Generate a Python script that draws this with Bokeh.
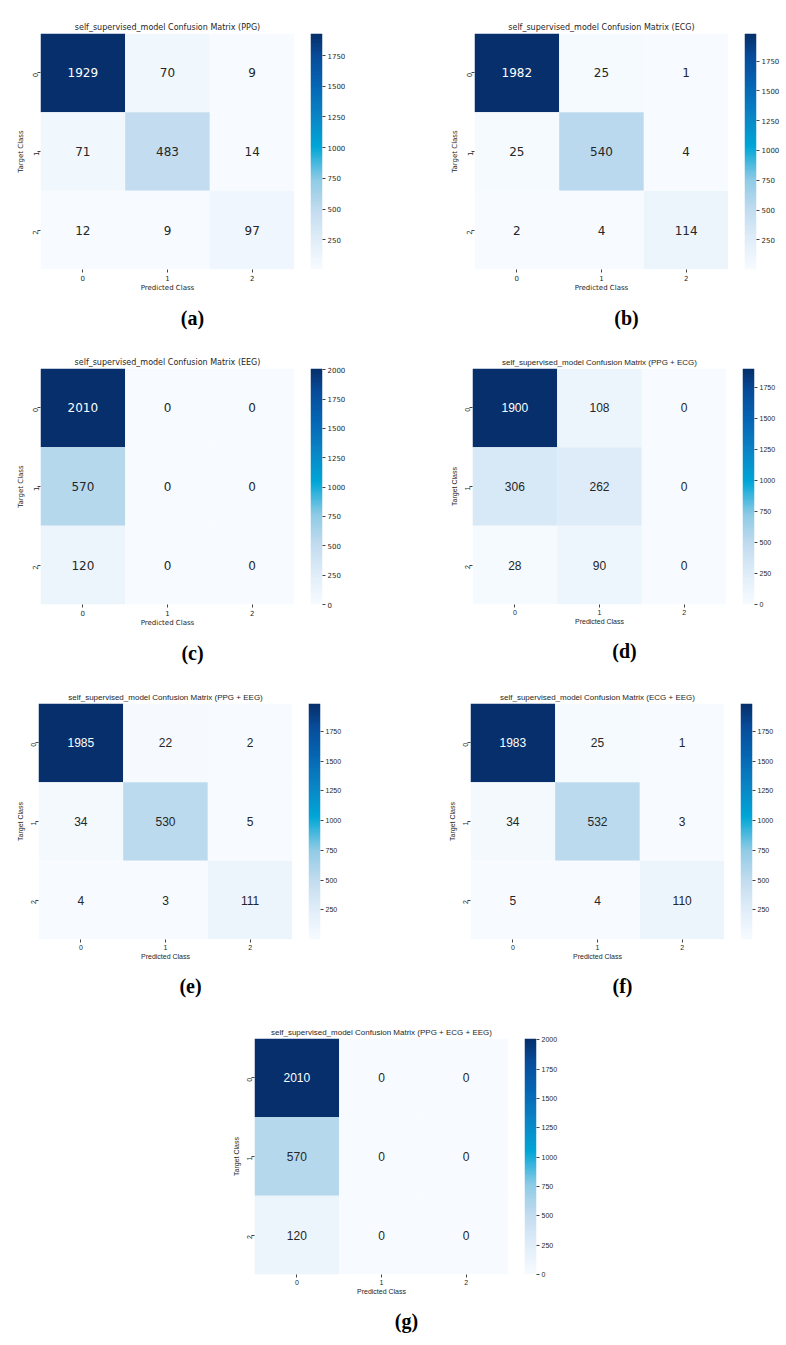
import math
import numpy as np
from bokeh.plotting import figure
from bokeh.models import (ColumnDataSource, LinearColorMapper, FixedTicker,
                          Title, Spacer, FactorRange, Range1d, LinearAxis)
from bokeh.layouts import row, column
from bokeh.embed import file_html
from bokeh.resources import INLINE

# ---------------- data ----------------
classes = ["0", "1", "2"]
cbar_ticks = [0, 250, 500, 750, 1000, 1250, 1500, 1750, 2000]

titles = [
    "self_supervised_model Confusion Matrix (PPG)",
    "self_supervised_model Confusion Matrix (ECG)",
    "self_supervised_model Confusion Matrix (EEG)",
    "self_supervised_model Confusion Matrix (PPG + ECG)",
    "self_supervised_model Confusion Matrix (PPG + EEG)",
    "self_supervised_model Confusion Matrix (ECG + EEG)",
    "self_supervised_model Confusion Matrix (PPG + ECG + EEG)",
]
captions = ["(a)", "(b)", "(c)", "(d)", "(e)", "(f)", "(g)"]

cm_ppg = [[1929, 70, 9], [71, 483, 14], [12, 9, 97]]
cm_ecg = [[1982, 25, 1], [25, 540, 4], [2, 4, 114]]
cm_eeg = [[2010, 0, 0], [570, 0, 0], [120, 0, 0]]
cm_ppg_ecg = [[1900, 108, 0], [306, 262, 0], [28, 90, 0]]
cm_ppg_eeg = [[1985, 22, 2], [34, 530, 5], [4, 3, 111]]
cm_ecg_eeg = [[1983, 25, 1], [34, 532, 3], [5, 4, 110]]
cm_all = [[2010, 0, 0], [570, 0, 0], [120, 0, 0]]
matrices = [cm_ppg, cm_ecg, cm_eeg, cm_ppg_ecg, cm_ppg_eeg, cm_ecg_eeg, cm_all]

# ---------------- style ----------------
stops = [(0.0, "#f7fbff"), (0.12, "#e1eef9"), (0.25, "#c2dcef"), (0.38, "#8ecbe6"),
         (0.52, "#00a6d7"), (0.65, "#0a85c6"), (0.78, "#0566b4"), (0.9, "#074d9b"),
         (1.0, "#062f6b")]


def hex2rgb(h):
    return [int(h[i:i + 2], 16) for i in (1, 3, 5)]


def make_palette(n=256):
    pos = [s[0] for s in stops]
    cols = np.array([hex2rgb(s[1]) for s in stops], dtype=float)
    out = []
    for tt in np.linspace(0, 1, n):
        rgb = [np.interp(tt, pos, cols[:, k]) for k in range(3)]
        out.append("#%02x%02x%02x" % tuple(int(round(c)) for c in rgb))
    return out


palette = make_palette()
TXT = "#262626"
TICK = "#444444"
FW, FH = 254, 236
TOP, BOT = 25, 74
CAP = 20


def caption_width(c, size):
    w = {"a": 0.5, "b": 0.556, "c": 0.444, "d": 0.556, "e": 0.444, "f": 0.333, "g": 0.5}
    return (0.666 + w[c[1]]) * size


def style_axis(ax, font):
    ax.axis_line_color = None
    ax.major_tick_line_color = TICK
    ax.major_tick_out = 3
    ax.major_tick_in = 0
    ax.minor_tick_line_color = None
    ax.major_label_standoff = 2
    ax.major_label_text_font_size = "7px"
    ax.major_label_text_color = TXT
    ax.major_label_text_font = font
    ax.axis_label_text_font_size = "7px"
    ax.axis_label_text_font_style = "normal"
    ax.axis_label_text_color = TXT
    ax.axis_label_text_font = font
    ax.axis_label_standoff = 2


def panel(i, right_border, font, bottom=BOT):
    m = matrices[i]
    vals = np.array(m)
    lo, hi = int(vals.min()), int(vals.max())
    mapper = LinearColorMapper(palette=palette, low=lo, high=hi)
    xs, ys, vs, lbl, tcol = [], [], [], [], []
    for r in range(3):
        for c in range(3):
            v = m[r][c]
            xs.append(classes[c])
            ys.append(classes[r])
            vs.append(v)
            lbl.append(str(v))
            tcol.append("white" if (v - lo) / (hi - lo) > 0.6 else TXT)
    src = ColumnDataSource(dict(x=xs, y=ys, v=vs, label=lbl, tcol=tcol))

    p = figure(x_range=FactorRange(*classes), y_range=FactorRange(*classes[::-1]),
               frame_width=FW, frame_height=FH,
               min_border_left=0, min_border_right=0,
               min_border_top=TOP, min_border_bottom=bottom,
               output_backend="svg", toolbar_location=None, tools="")
    p.rect(x="x", y="y", width=1, height=1, source=src,
           fill_color={"field": "v", "transform": mapper}, line_color=None)
    p.text(x="x", y="y", text="label", source=src, text_align="center",
           text_baseline="middle", text_font_size="12px", text_color="tcol",
           text_font={"value": font})

    p.title.text = titles[i]
    p.title.align = "center"
    p.title.text_font = font
    p.title.text_font_size = "8px"
    p.title.text_font_style = "normal"
    p.title.text_color = TXT
    p.title.standoff = 4

    style_axis(p.xaxis[0], font)
    style_axis(p.yaxis[0], font)
    p.xaxis.axis_label = "Predicted Class"
    p.xaxis.axis_label_standoff = 0
    p.yaxis.axis_label = "Target Class"
    p.yaxis.major_label_orientation = math.pi / 2
    p.grid.grid_line_color = None
    p.outline_line_color = None

    cap = Title(text=captions[i], align="left",
                offset=152 - caption_width(captions[i], CAP) / 2,
                text_font="Liberation Serif", text_font_style="bold",
                text_font_size="%dpx" % CAP, text_color="#000000",
                standoff=24, vertical_align="top")
    p.add_layout(cap, "below")

    # colour bar: gradient image with its own value axis
    cb = figure(x_range=Range1d(0, 1), y_range=Range1d(lo, hi),
                frame_width=12, frame_height=FH,
                min_border_left=16, min_border_right=right_border,
                min_border_top=TOP, min_border_bottom=bottom,
                x_axis_location=None, y_axis_location=None,
                output_backend="svg", toolbar_location=None, tools="")
    grad = np.linspace(lo, hi, 400).reshape(-1, 1)
    cb.image(image=[grad], x=0, y=lo, dw=1, dh=hi - lo, color_mapper=mapper)
    ax = LinearAxis(ticker=FixedTicker(ticks=cbar_ticks))
    style_axis(ax, font)
    cb.add_layout(ax, "right")
    cb.grid.grid_line_color = None
    cb.outline_line_color = None
    return row(p, cb)


pa = panel(0, 125, "DejaVu Sans")
pb = panel(1, 20, "DejaVu Sans")
pc = panel(2, 125, "DejaVu Sans")
pd = panel(3, 20, "Liberation Sans")
pe = panel(4, 125, "Liberation Sans")
pf = panel(5, 20, "Liberation Sans")
pg = panel(6, 30, "Liberation Sans", bottom=62)

grid = column(row(pa, pb), row(pc, pd), row(pe, pf),
              row(Spacer(width=216, height=10), pg))
layout = column(Spacer(width=10, height=8), row(Spacer(width=13, height=10), grid))

open("out.html", "w").write(file_html(layout, INLINE))
